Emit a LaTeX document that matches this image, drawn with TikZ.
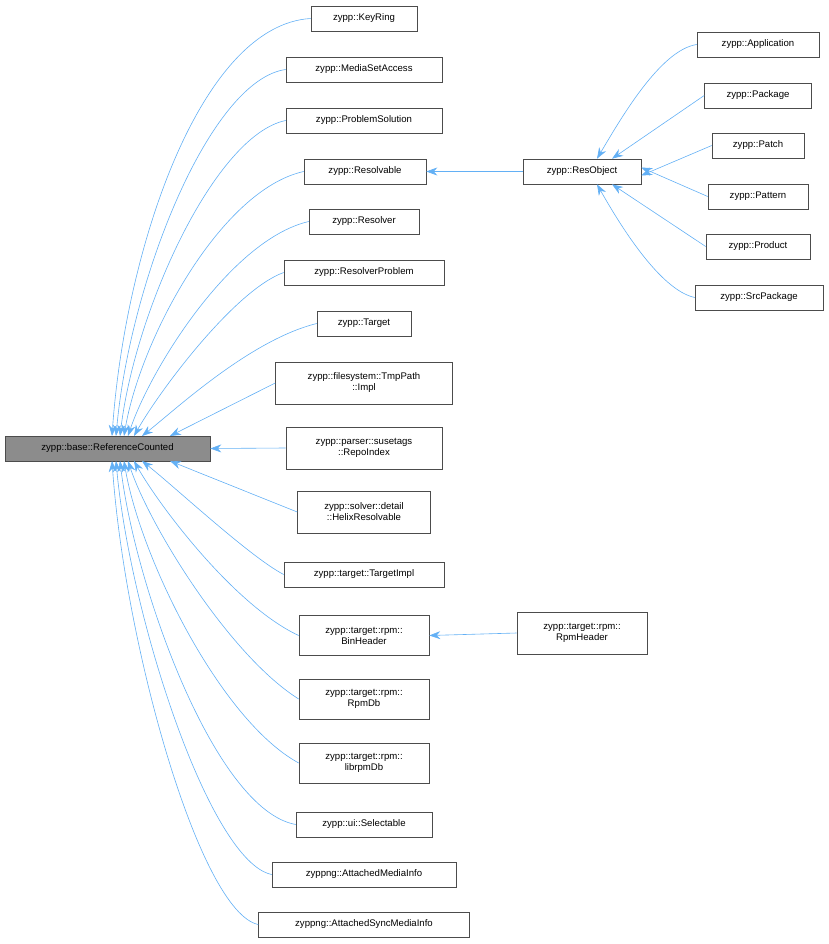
\documentclass[tikz,border=0pt]{standalone}
\usepackage{fontspec}
\setmainfont{Liberation Sans}
\usetikzlibrary{arrows.meta}
\definecolor{edge}{RGB}{99,176,245}
\begin{document}
\begin{tikzpicture}[x=1pt,y=-1pt,
  cls/.style={draw=black!70,fill=white,font=\fontsize{9.6}{11}\selectfont,align=center,inner sep=0pt,minimum height=25pt,line width=0.6pt},
  ln/.style={draw=edge,line width=0.6pt,-{Stealth[length=11pt,width=8pt,fill=edge]}}]
\useasboundingbox (0,0) rectangle (828,944);
\node[cls,fill=black!45,minimum width=205pt] (base) at (107.5,448.5) {zypp::base::ReferenceCounted};
\node[cls,minimum width=106pt] (a1) at (364,18.5) {zypp::KeyRing};
\node[cls,minimum width=156pt] (a2) at (364,69.5) {zypp::MediaSetAccess};
\node[cls,minimum width=156pt] (a3) at (364,120.5) {zypp::ProblemSolution};
\node[cls,minimum width=122pt] (a4) at (365,171.5) {zypp::Resolvable};
\node[cls,minimum width=110pt] (a5) at (364,221.5) {zypp::Resolver};
\node[cls,minimum width=160pt] (a6) at (364,272.5) {zypp::ResolverProblem};
\node[cls,minimum width=94pt] (a7) at (364,323.5) {zypp::Target};
\node[cls,minimum width=177pt,minimum height=42pt] (a8) at (364,383) {zypp::filesystem::TmpPath\\::Impl};
\node[cls,minimum width=156pt,minimum height=42pt] (a9) at (364,448) {zypp::parser::susetags\\::RepoIndex};
\node[cls,minimum width=133pt,minimum height=42pt] (a10) at (364,512) {zypp::solver::detail\\::HelixResolvable};
\node[cls,minimum width=160pt] (a11) at (364,574.5) {zypp::target::TargetImpl};
\node[cls,minimum width=130pt,minimum height=40pt] (a12) at (364,635.5) {zypp::target::rpm::\\BinHeader};
\node[cls,minimum width=130pt,minimum height=40pt] (a13) at (364,699) {zypp::target::rpm::\\RpmDb};
\node[cls,minimum width=130pt,minimum height=40pt] (a14) at (364,763) {zypp::target::rpm::\\librpmDb};
\node[cls,minimum width=136pt] (a15) at (364,824.5) {zypp::ui::Selectable};
\node[cls,minimum width=184pt] (a16) at (364,874.5) {zyppng::AttachedMediaInfo};
\node[cls,minimum width=211pt] (a17) at (364,924.5) {zyppng::AttachedSyncMediaInfo};
\node[cls,minimum width=118pt] (ro) at (582,171.5) {zypp::ResObject};
\node[cls,minimum width=130pt,minimum height=42pt] (rh) at (582,633) {zypp::target::rpm::\\RpmHeader};
\node[cls,minimum width=122pt] (b1) at (758,44.5) {zypp::Application};
\node[cls,minimum width=107pt] (b2) at (758,95.5) {zypp::Package};
\node[cls,minimum width=92pt] (b3) at (758,145.5) {zypp::Patch};
\node[cls,minimum width=100pt] (b4) at (758,196.5) {zypp::Pattern};
\node[cls,minimum width=104pt] (b5) at (758,246.5) {zypp::Product};
\node[cls,minimum width=128pt] (b6) at (759,297.5) {zypp::SrcPackage};
% edges to base
\coordinate (t1) at (112,436);
\coordinate (t2) at (116,436);
\coordinate (t3) at (120,436);
\coordinate (t4) at (124,436);
\coordinate (t5) at (128,436);
\coordinate (t6) at (134,436);
\coordinate (t7) at (142,436);
\coordinate (t8) at (170,436);
\coordinate (t10) at (170,461);
\coordinate (t11) at (142,461);
\coordinate (t12) at (134,461);
\coordinate (t13) at (128,461);
\coordinate (t14) at (124,461);
\coordinate (t15) at (120,461);
\coordinate (t16) at (116,461);
\coordinate (t17) at (112,461);
\draw[ln] (a1.west) .. controls (200,25) and (125,250) .. (t1);
\draw[ln] (a2.west) .. controls (210,80) and (130,280) .. (t2);
\draw[ln] (a3.west) .. controls (215,135) and (135,310) .. (t3);
\draw[ln] (a4.west) .. controls (220,190) and (140,340) .. (t4);
\draw[ln] (a5.west) .. controls (230,240) and (150,370) .. (t5);
\draw[ln] (a6.west) .. controls (235,290) and (160,390) .. (t6);
\draw[ln] (a7.west) .. controls (250,340) and (175,410) .. (t7);
\draw[ln] (a8.west) -- (t8);
\draw[ln] (a9.west) -- (base.east);
\draw[ln] (a10.west) -- (t10);
\draw[ln] (a11.west) .. controls (250,557) and (175,487) .. (t11);
\draw[ln] (a12.west) .. controls (235,606) and (160,507) .. (t12);
\draw[ln] (a13.west) .. controls (230,656) and (150,527) .. (t13);
\draw[ln] (a14.west) .. controls (220,720) and (140,557) .. (t14);
\draw[ln] (a15.west) .. controls (215,810) and (135,587) .. (t15);
\draw[ln] (a16.west) .. controls (210,862) and (130,617) .. (t16);
\draw[ln] (a17.west) .. controls (200,912) and (125,647) .. (t17);
% other edges
\draw[ln] (ro.west) -- (a4.east);
\draw[ln] (rh.west) -- (a12.east);
\draw[ln] (b1.west) .. controls (660,50) and (620,120) .. ([xshift=15pt]ro.north);
\draw[ln] (b2.west) -- ([xshift=30pt]ro.north);
\draw[ln] (b3.west) -- ([yshift=-4pt]ro.east);
\draw[ln] (b4.west) -- ([yshift=4pt]ro.east);
\draw[ln] (b5.west) -- ([xshift=30pt]ro.south);
\draw[ln] (b6.west) .. controls (660,290) and (620,225) .. ([xshift=15pt]ro.south);
\end{tikzpicture}
\end{document}
